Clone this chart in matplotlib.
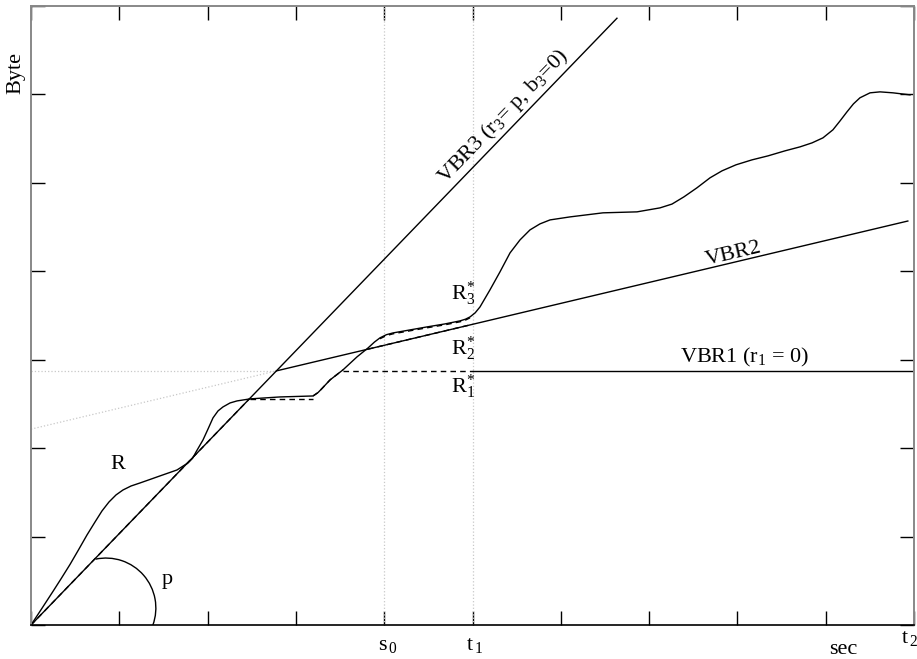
import numpy as np
import matplotlib
matplotlib.use("Agg")
import matplotlib.pyplot as plt
from matplotlib.patches import Arc

plt.rcParams['font.family'] = ['Liberation Serif', 'DejaVu Serif']
plt.rcParams['mathtext.fontset'] = 'custom'
plt.rcParams['mathtext.rm'] = 'Liberation Serif'
plt.rcParams['mathtext.it'] = 'Liberation Serif'
plt.rcParams['mathtext.default'] = 'regular'

# ---- data ----
r_x = [0, 0.125, 0.249, 0.345, 0.442, 0.538, 0.634, 0.725, 0.804, 0.883, 0.963,
       1.042, 1.133, 1.234, 1.348, 1.461, 1.653, 1.778, 1.830, 1.869, 1.948,
       2.005, 2.061, 2.118, 2.174, 2.254, 2.333, 2.480, 2.820, 3.194, 3.250,
       3.296, 3.386, 3.533, 3.692, 3.817, 3.890, 3.952, 4.025, 4.100, 4.292,
       4.485, 4.689, 4.858, 4.920, 4.972, 5.030, 5.085, 5.198, 5.311, 5.425,
       5.538, 5.651, 5.764, 5.878, 6.104, 6.478, 6.863, 7.123, 7.259, 7.395,
       7.542, 7.690, 7.826, 7.984, 8.165, 8.346, 8.539, 8.709, 8.845, 8.969,
       9.082, 9.162, 9.241, 9.314, 9.388, 9.502, 9.615, 9.762, 9.955]
r_y = [0, 0.190, 0.380, 0.530, 0.685, 0.850, 1.018, 1.165, 1.290, 1.391, 1.471,
       1.527, 1.572, 1.606, 1.646, 1.686, 1.753, 1.833, 1.885, 1.957, 2.093,
       2.217, 2.342, 2.421, 2.466, 2.511, 2.534, 2.557, 2.579, 2.590, 2.628,
       2.675, 2.771, 2.885, 3.032, 3.133, 3.200, 3.247, 3.283, 3.303, 3.337,
       3.371, 3.405, 3.439, 3.458, 3.484, 3.530, 3.597, 3.790, 3.993, 4.208,
       4.355, 4.468, 4.536, 4.581, 4.615, 4.661, 4.672, 4.717, 4.760, 4.842,
       4.944, 5.057, 5.136, 5.204, 5.260, 5.305, 5.362, 5.407, 5.452, 5.509,
       5.600, 5.700, 5.803, 5.893, 5.962, 6.018, 6.029, 6.018, 5.995]

p_rate = 1.034          # VBR3 slope (peak rate)
vbr3_end = 6.636        # x where VBR3 line stops
vbr2_rate = 0.237
vbr2_burst = 2.215
vbr2_range = [2.78, 9.93]
vbr1_level = 2.873
s0 = 4.0
t1 = 5.0
plateau_level = 2.557
plateau_x = [2.48, 3.194]

xtick_pos = list(range(0, 11))
ytick_pos = list(range(0, 8))

# ---- figure ----
fig = plt.figure(figsize=(9.17, 6.59), dpi=100)
ax = fig.add_axes([31/917, 34/659, 883/917, 619/659])
ax.set_xlim(0, 10)
ax.set_ylim(0, 7)

lw = 1.0
dotc = '#c8c8c8'

# dotted guides
ax.plot([s0, s0], [0, 7], ls=':', color=dotc, lw=0.9)
ax.plot([t1, t1], [0, 7], ls=':', color=dotc, lw=0.9)
ax.plot([0, vbr2_range[0]], [vbr1_level, vbr1_level], ls=':', color=dotc, lw=0.9)
ax.plot([0, vbr2_range[0]], [vbr2_burst, vbr2_burst + vbr2_rate * vbr2_range[0]],
        ls=':', color=dotc, lw=0.9)

# R curve
ax.plot(r_x, r_y, color='black', lw=lw, solid_joinstyle='round')

# VBR3
ax.plot([0, vbr3_end], [0, p_rate * vbr3_end], color='black', lw=lw)
# VBR2
vx = np.array(vbr2_range)
ax.plot(vx, vbr2_burst + vbr2_rate * vx, color='black', lw=lw)
# VBR1
ax.plot([t1, 10], [vbr1_level, vbr1_level], color='black', lw=lw)

# R* dashed curves
dash = dict(color='black', lw=lw, ls=(0, (4, 3)))
ax.plot([0, plateau_x[0]], [0, p_rate * plateau_x[0]], **dash)
ax.plot(plateau_x, [plateau_level, plateau_level], **dash)
rx = np.array(r_x); ry = np.array(r_y)
m = (rx >= 3.194) & (rx <= 3.533)
ax.plot(rx[m], ry[m], **dash)
ax.plot([3.533, t1], [vbr1_level, vbr1_level], **dash)
xx = np.array([3.817, t1])
ax.plot(xx, vbr2_burst + vbr2_rate * xx, **dash)
m3 = (rx >= 3.952) & (rx <= 4.972)
ax.plot(rx[m3], ry[m3] - 0.01, **dash)

# arc "p"
ax.add_patch(Arc((0.849, 0.192), 1.13, 1.13, theta1=-20, theta2=102,
                 color='black', lw=lw))

fs = 16
ax.text(0.985, 1.81, 'R', fontsize=fs, ha='center', va='center')
ax.text(1.54, 0.52, 'p', fontsize=fs, ha='center', va='center')
ax.text(5.345, 5.747, 'VBR3 (r$_3$= p, b$_3$=0)', fontsize=fs, rotation=46,
        rotation_mode='anchor', ha='center', va='center')
ax.text(7.95, 4.19, 'VBR2', fontsize=fs, rotation=13.3,
        rotation_mode='anchor', ha='center', va='center')
ax.text(8.086, 3.03, 'VBR1 (r$_1$ = 0)', fontsize=fs, ha='center', va='center')
ax.text(4.76, 3.676, 'R$^{*}_3$', fontsize=fs, ha='left', va='baseline')
ax.text(4.76, 3.054, 'R$^{*}_2$', fontsize=fs, ha='left', va='baseline')
ax.text(4.76, 2.624, 'R$^{*}_1$', fontsize=fs, ha='left', va='baseline')

# axis-side labels
ax.text(3.93, -0.13, 's$_{\\,0}$', fontsize=fs, ha='left', va='top', clip_on=False)
ax.text(4.93, -0.13, 't$_{\\,1}$', fontsize=fs, ha='left', va='top', clip_on=False)
ax.text(9.2, -0.17, 'sec', fontsize=fs, ha='center', va='top', clip_on=False)
ax.text(9.85, -0.04, 't$_{\\,2}$', fontsize=fs, ha='left', va='top', clip_on=False)
fig.text(16/917, 1 - 73/659, 'Byte', fontsize=fs, rotation=90, ha='center', va='center')

# axes styling
ax.set_xticks(xtick_pos)
ax.set_yticks(ytick_pos)
ax.set_xticklabels([])
ax.set_yticklabels([])
ax.tick_params(direction='in', length=10, width=1, top=True, right=True,
               color='black')
for s in ['left', 'top', 'right']:
    ax.spines[s].set_color('#888888')
    ax.spines[s].set_linewidth(1.4)
ax.spines['bottom'].set_color('black')
ax.spines['bottom'].set_linewidth(1.2)

fig.savefig('out.png', dpi=100)
